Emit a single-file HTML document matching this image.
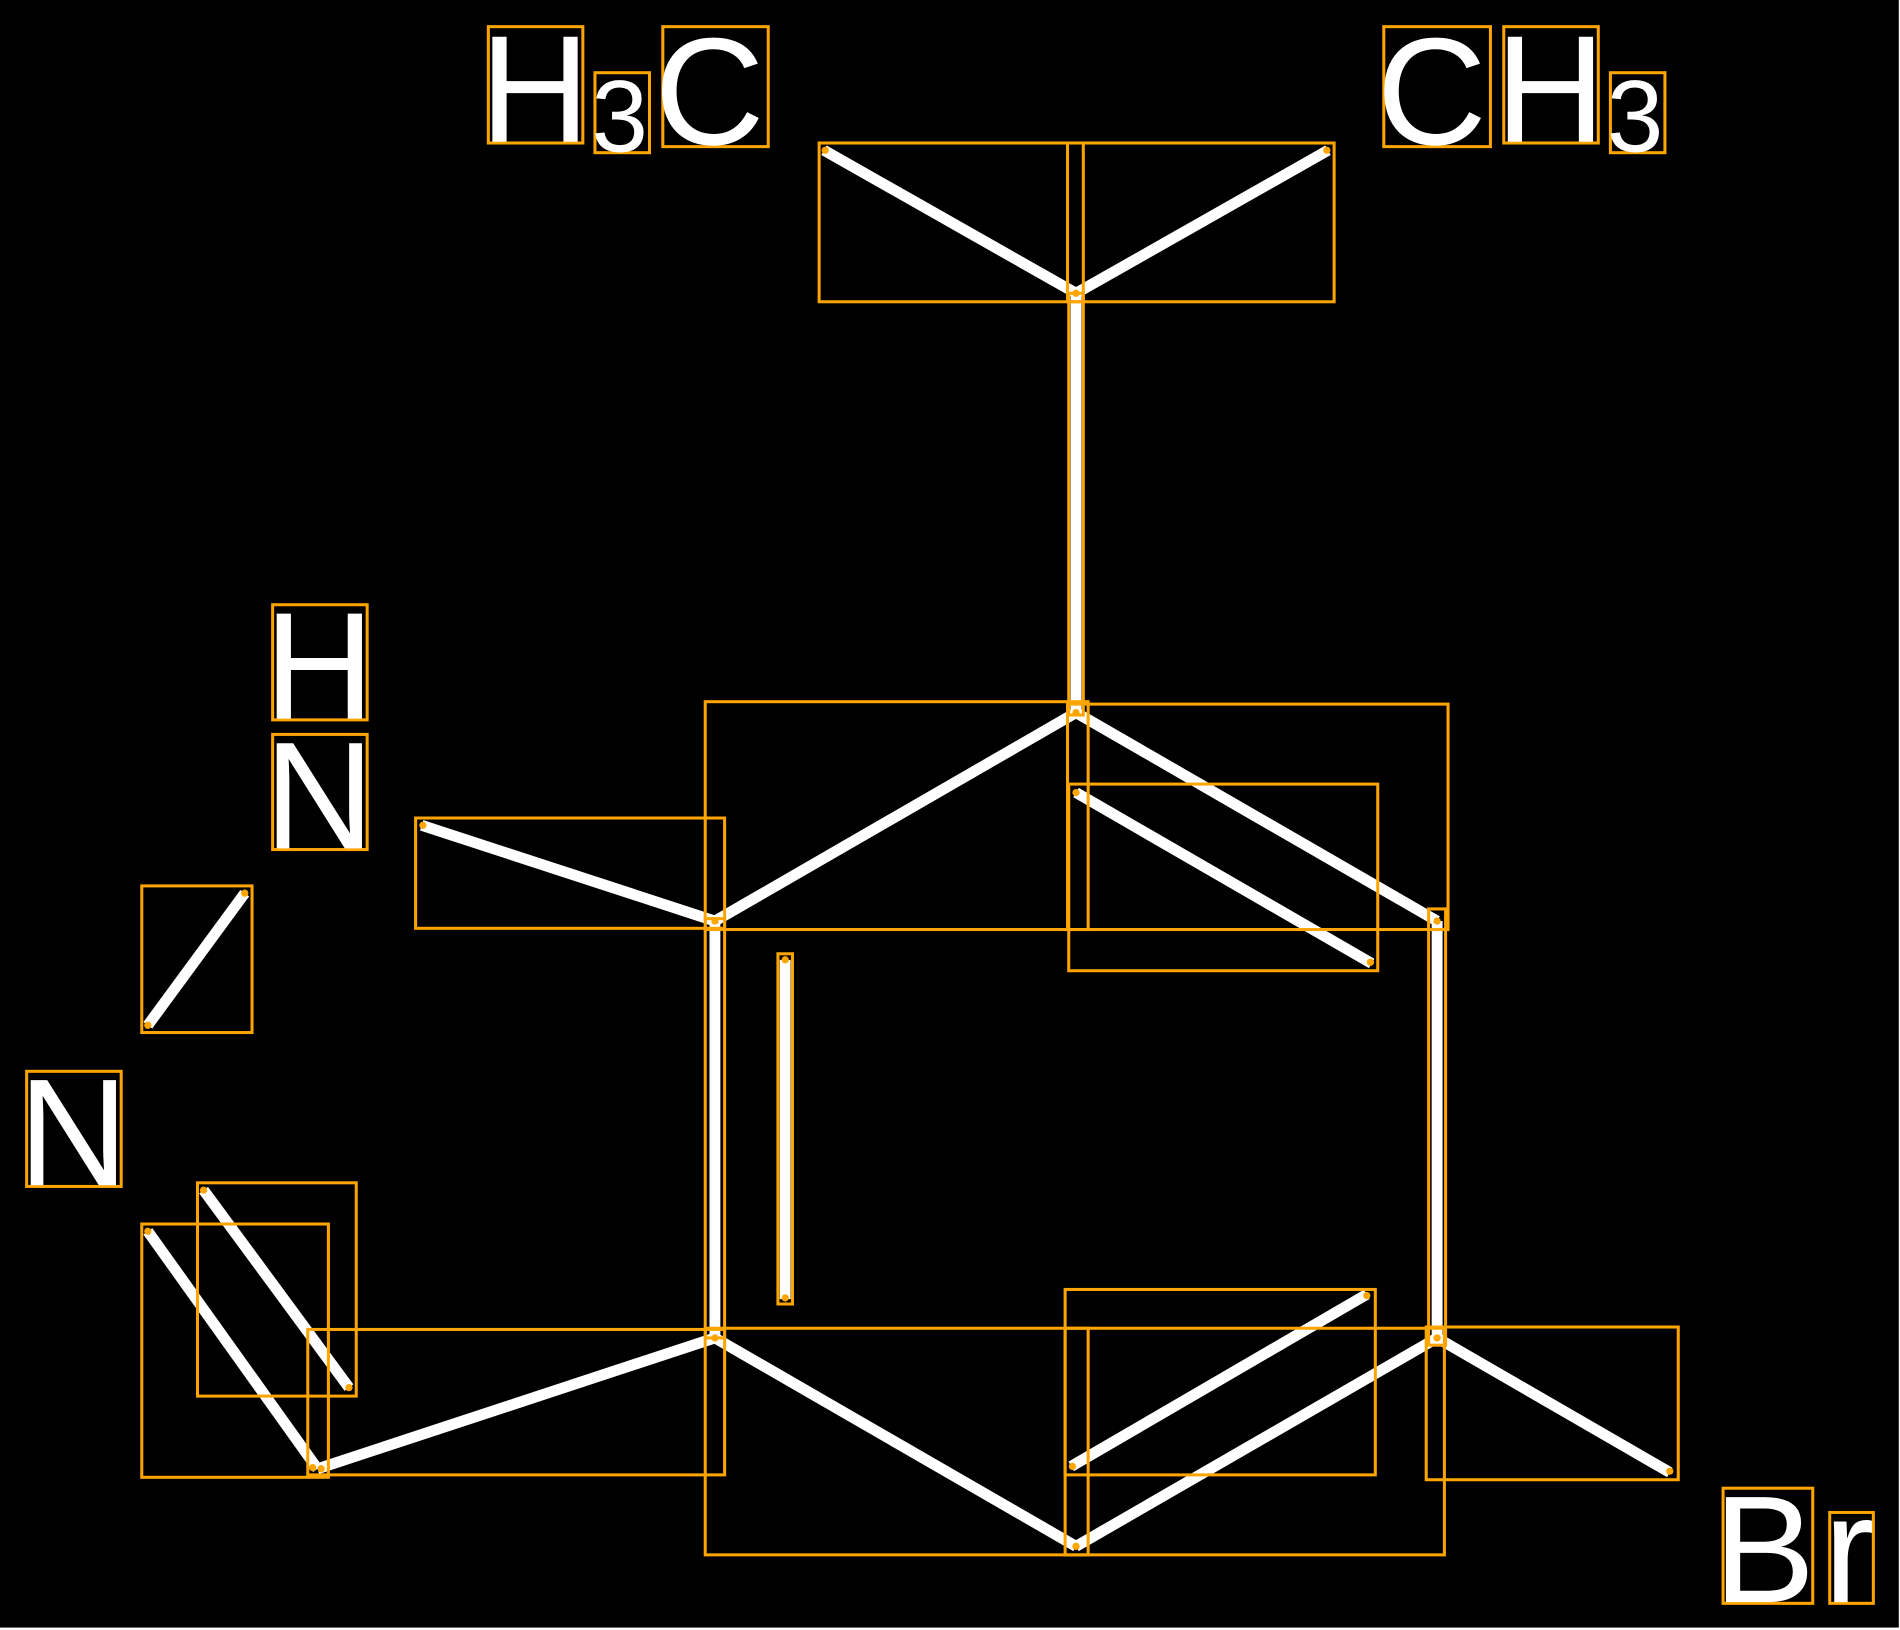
<!DOCTYPE html>
<html><head><style>html,body{margin:0;padding:0;background:#fff}svg{display:block}</style></head>
<body>
<svg width="1900" height="1630" viewBox="0 0 1568 1345" preserveAspectRatio="none" xmlns="http://www.w3.org/2000/svg">
<rect x="0" y="0" width="1567" height="1343" fill="#000"/>
<g stroke="#fff" stroke-width="9" stroke-linecap="butt" fill="none">
<line x1="680" y1="124" x2="888" y2="242"/>
<line x1="888" y1="242" x2="1096" y2="124"/>
<line x1="888" y1="242" x2="888" y2="588"/>
<line x1="888" y1="588" x2="590" y2="760"/>
<line x1="888" y1="588" x2="1186" y2="760"/>
<line x1="888" y1="654" x2="1132" y2="795"/>
<line x1="590" y1="760" x2="348" y2="681"/>
<line x1="590" y1="760" x2="590" y2="1104"/>
<line x1="648" y1="792" x2="648" y2="1072"/>
<line x1="1186" y1="760" x2="1186" y2="1104"/>
<line x1="590" y1="1104" x2="888" y2="1276"/>
<line x1="888" y1="1276" x2="1186" y2="1104"/>
<line x1="884" y1="1210" x2="1128" y2="1068"/>
<line x1="1186" y1="1104" x2="1378" y2="1215"/>
<line x1="590" y1="1104" x2="262" y2="1212"/>
<line x1="262" y1="1212" x2="122" y2="1016"/>
<line x1="288" y1="1145" x2="168" y2="982"/>
<line x1="122" y1="846" x2="202" y2="737"/>
</g>
<g stroke="#FFA500" stroke-width="2.5" fill="none">
<rect x="676" y="118" width="425" height="131"/>
<rect x="881" y="118" width="13" height="131"/>
<rect x="882" y="242" width="12" height="348"/>
<rect x="582" y="579" width="316" height="188"/>
<rect x="881" y="581" width="314" height="186"/>
<rect x="882" y="647" width="255" height="154"/>
<rect x="343" y="675" width="255" height="91"/>
<rect x="117" y="731" width="91" height="121"/>
<rect x="582" y="758" width="16" height="346"/>
<rect x="642" y="787" width="12" height="289"/>
<rect x="1179" y="750" width="14" height="360"/>
<rect x="582" y="1096" width="316" height="187"/>
<rect x="879" y="1096" width="313" height="187"/>
<rect x="879" y="1064" width="256" height="153"/>
<rect x="1177" y="1095" width="208" height="126"/>
<rect x="254" y="1097" width="344" height="120"/>
<rect x="163" y="976" width="131" height="176"/>
<rect x="117" y="1010" width="154" height="209"/>
<rect x="403" y="22" width="78" height="96"/>
<rect x="491" y="60" width="45" height="66"/>
<rect x="547" y="22" width="87" height="99"/>
<rect x="1142" y="22" width="88" height="99"/>
<rect x="1241" y="22" width="78" height="96"/>
<rect x="1329" y="60" width="45" height="66"/>
<rect x="225" y="499" width="78" height="95"/>
<rect x="225" y="606" width="78" height="95"/>
<rect x="22" y="884" width="78" height="95"/>
<rect x="1422" y="1228" width="74" height="95"/>
<rect x="1510" y="1248" width="36" height="75"/>
</g>
<g fill="#FFA500">
<circle cx="681" cy="124" r="3"/><circle cx="1095" cy="124" r="3"/><circle cx="888" cy="242" r="3"/>
<circle cx="888" cy="588" r="3"/><circle cx="888" cy="654" r="3"/><circle cx="1131" cy="794" r="3"/>
<circle cx="349" cy="681" r="3"/><circle cx="590" cy="760" r="3"/><circle cx="1186" cy="760" r="3"/>
<circle cx="648" cy="792" r="3"/><circle cx="648" cy="1071" r="3"/><circle cx="590" cy="1104" r="3"/>
<circle cx="1186" cy="1104" r="3"/><circle cx="888" cy="1276" r="3"/><circle cx="885" cy="1210" r="3"/>
<circle cx="1128" cy="1069" r="3"/><circle cx="1378" cy="1214" r="3"/><circle cx="265" cy="1212" r="3"/>
<circle cx="258" cy="1211" r="3"/><circle cx="122" cy="1016" r="3"/><circle cx="288" cy="1145" r="3"/>
<circle cx="168" cy="982" r="3"/><circle cx="122" cy="846" r="3"/><circle cx="202" cy="737" r="3"/>
</g>
<g fill="#fff" font-family="Liberation Sans, sans-serif" font-size="126">
<text x="396" y="117">H</text>
<text x="488" y="125" font-size="84">3</text>
<text x="540" y="119">C</text>
<text x="1136" y="119">C</text>
<text x="1234" y="117">H</text>
<text x="1326" y="125" font-size="84">3</text>
<text x="218" y="593">H</text>
<text x="218" y="700">N</text>
<text x="15" y="978">N</text>
<text x="1414" y="1322">B</text>
<text x="1505" y="1322">r</text>
</g>
</svg>
</body></html>
